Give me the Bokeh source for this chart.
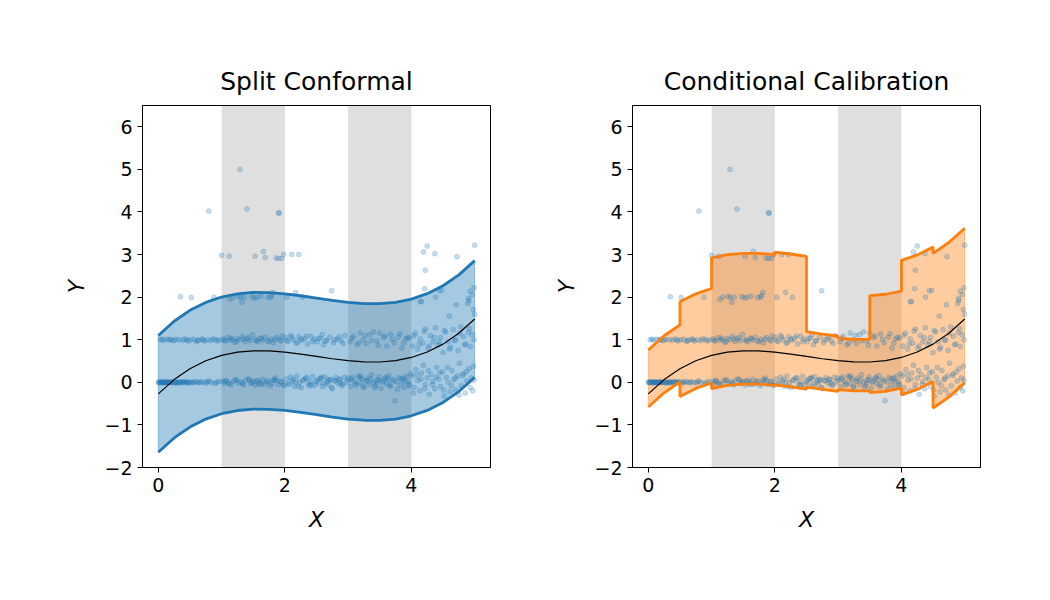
from bokeh.plotting import figure
from bokeh.layouts import row
from bokeh.models import Range1d, FixedTicker, BoxAnnotation
from bokeh.embed import file_html
from bokeh.resources import INLINE

BLUE = "#1f77b4"
ORANGE = "#ff7f0e"

TITLES = ["Split Conformal", "Conditional Calibration"]
X_TICKS = [0, 2, 4]
Y_TICKS = [-2, -1, 0, 1, 2, 3, 4, 5, 6]
SHADED = [(1.0, 2.0), (3.0, 4.0)]

# fitted mean curve
MEAN_X = [0.0, 0.25, 0.5, 0.75, 1.0, 1.25, 1.5, 1.75, 2.0, 2.25, 2.5,
          2.75, 3.0, 3.25, 3.5, 3.75, 4.0, 4.25, 4.5, 4.75, 5.0]
MEAN_Y = [-0.27, 0.064, 0.32, 0.507, 0.633, 0.708, 0.740, 0.737, 0.709, 0.663, 0.609,
          0.554, 0.508, 0.480, 0.477, 0.508, 0.584, 0.711, 0.897, 1.153, 1.487]

# split conformal half-width
SPLIT_Q = 1.37

# conditional calibration: per-segment offsets from the mean
COND_EDGES = [0.0, 0.5, 1.0, 1.5, 2.0, 2.5, 3.0, 3.5, 4.0, 4.5, 5.0]
COND_LOWER = [-0.31, -0.65, -0.78, -0.78, -0.77, -0.72, -0.68, -0.72, -0.88, -1.50]
COND_UPPER = [1.03, 1.57, 2.29, 2.29, 2.35, 0.58, 0.53, 1.56, 2.28, 2.13]

# observations near Y = 0
Y0_X = [0.00, 0.02, 0.03, 0.05, 0.06, 0.08, 0.10, 0.11, 0.13, 0.15, 0.17, 0.19, 0.21, 0.23, 0.26, 0.28, 0.30, 0.33,
        0.35, 0.37, 0.40, 0.42, 0.44, 0.47, 0.50, 0.53, 0.57, 0.60, 0.63, 0.68, 0.72, 0.76, 0.80, 0.84, 0.89, 0.95,
        1.01, 1.04, 1.07, 1.10, 1.15, 1.19, 1.22, 1.27, 1.31, 1.35, 1.38, 1.42, 1.46, 1.50, 1.53, 1.57, 1.61, 1.65,
        1.69, 1.73, 1.77, 1.81, 1.85, 1.89, 1.93, 1.97,
        2.02, 2.05, 2.09, 2.12, 2.15, 2.19, 2.23, 2.26, 2.30, 2.33, 2.37, 2.40, 2.44, 2.47, 2.51, 2.54, 2.57, 2.60,
        2.63, 2.66, 2.69, 2.72, 2.75, 2.78, 2.81, 2.84, 2.87, 2.90, 2.94, 2.97,
        3.01, 3.04, 3.07, 3.10, 3.13, 3.16, 3.19, 3.22, 3.25, 3.28, 3.31, 3.34, 3.37, 3.40, 3.43, 3.46, 3.49, 3.52,
        3.55, 3.58, 3.61, 3.64, 3.67, 3.70, 3.74, 3.77, 3.80, 3.83, 3.86, 3.89, 3.92, 3.95, 3.97, 3.99,
        4.01, 4.04, 4.07, 4.10, 4.13, 4.16, 4.19, 4.22, 4.25, 4.28, 4.31, 4.34, 4.37, 4.40, 4.43, 4.46, 4.49, 4.52,
        4.55, 4.58, 4.61, 4.64, 4.67, 4.70, 4.73, 4.76, 4.79, 4.82, 4.85, 4.88, 4.91, 4.93, 4.95, 4.97, 4.99, 4.98,
        0.01, 0.04, 0.07, 0.09, 0.12, 0.14, 0.16, 0.18, 0.20, 0.24, 0.27, 0.31, 0.34, 0.39, 0.45, 0.48, 0.55, 0.66,
        0.78, 0.92,
        1.12, 1.24, 1.33, 1.44, 1.55, 1.63, 1.71, 1.79, 1.87, 1.95, 1.99, 1.06, 1.48, 1.59, 1.83,
        2.07, 2.14, 2.21, 2.28, 2.35, 2.42, 2.49, 2.55, 2.62, 2.68, 2.74, 2.80, 2.86, 2.92, 2.99, 2.17, 2.39, 2.58,
        2.71, 2.88,
        3.05, 3.12, 3.18, 3.24, 3.30, 3.36, 3.42, 3.48, 3.54, 3.60, 3.66, 3.72, 3.78, 3.84, 3.90, 3.96, 3.20, 3.45,
        3.63, 3.88,
        4.03, 4.09, 4.15, 4.21, 4.27, 4.33, 4.39, 4.45, 4.51, 4.57, 4.63, 4.69, 4.75, 4.81, 4.87]
Y0_Y = [0.00, -0.01, 0.00, 0.01, 0.00, -0.01, 0.00, 0.01, -0.01, 0.00, 0.00, 0.01, -0.01, 0.00, 0.01, 0.00, -0.02, 0.00,
        0.01, -0.01, 0.00, 0.02, -0.01, 0.00, 0.01, -0.02, 0.00, 0.02, -0.01, 0.01, 0.00, -0.02, 0.03, 0.00, -0.03, 0.02,
        0.02, -0.03, 0.04, 0.00, -0.05, 0.03, 0.06, -0.02, 0.01, -0.06, 0.05, 0.08, -0.03, 0.02, -0.07, 0.04, 0.00, 0.07,
        -0.04, 0.03, -0.08, 0.05, 0.10, -0.05, 0.02, -0.06,
        0.08, -0.05, 0.12, 0.03, -0.09, 0.15, 0.00, -0.12, 0.06, 0.10, -0.04, 0.02, 0.14, -0.07, 0.05, -0.02, 0.09, -0.10,
        0.13, 0.01, -0.05, 0.07, -0.15, 0.04, 0.11, -0.03, 0.06, -0.08, 0.12, 0.00,
        0.05, -0.10, 0.12, 0.02, -0.06, 0.15, -0.02, 0.08, -0.12, 0.04, 0.10, -0.05, 0.18, 0.00, -0.08, 0.06, 0.13, -0.14,
        0.03, 0.09, -0.04, 0.16, -0.10, 0.07, -0.43, 0.01, 0.11, -0.07, 0.05, -0.12, 0.14, 0.02, -0.05, 0.20,
        0.15, -0.12, 0.30, 0.05, -0.20, 0.22, 0.40, -0.05, 0.10, -0.28, 0.18, 0.02, -0.15, 0.35, 0.08, -0.10, 0.25, -0.32,
        0.12, 0.00, -0.22, 0.28, 0.06, -0.18, 0.15, 0.45, -0.08, 0.20, -0.25, 0.03, 0.32, -0.12, 0.10, -0.20, 0.05, 0.38,
        0.00, 0.01, -0.01, 0.00, 0.01, 0.00, -0.01, 0.00, 0.01, 0.00, -0.01, 0.01, 0.00, 0.01, 0.00, -0.01, 0.01, 0.00,
        0.02, -0.01,
        -0.04, 0.05, -0.02, 0.06, 0.03, -0.05, 0.02, -0.03, 0.04, 0.01, -0.07, 0.03, 0.00, -0.04, 0.06,
        -0.02, 0.07, -0.10, 0.04, 0.11, -0.06, 0.02, 0.09, -0.03, 0.06, -0.12, 0.03, 0.08, -0.05, 0.10, 0.01, -0.08, 0.12,
        0.05, -0.01,
        0.08, -0.03, 0.11, -0.09, 0.02, 0.07, -0.13, 0.05, 0.00, 0.12, -0.06, 0.03, -0.16, 0.09, 0.01, -0.08, 0.15, -0.02,
        0.06, 0.10,
        -0.25, 0.18, 0.08, -0.15, 0.28, -0.05, 0.12, 0.22, -0.18, 0.35, -0.08, 0.10, -0.30, 0.16, 0.25]

# observations near Y = 1
Y1_X = [0.03, 0.08, 0.13, 0.17, 0.22, 0.28, 0.33, 0.38, 0.42, 0.47, 0.51, 0.56, 0.60, 0.64, 0.69, 0.73, 0.78, 0.83, 0.90, 0.96,
        1.02, 1.06, 1.10, 1.13, 1.17, 1.21, 1.25, 1.29, 1.33, 1.37, 1.41, 1.45, 1.49, 1.53, 1.57, 1.61, 1.65, 1.69,
        1.73, 1.78, 1.82, 1.87, 1.92, 1.96,
        2.01, 2.05, 2.09, 2.13, 2.18, 2.22, 2.27, 2.31, 2.36, 2.41, 2.46, 2.51, 2.56, 2.61, 2.66, 2.71, 2.77, 2.83, 2.89, 2.95,
        3.03, 3.08, 3.14, 3.19, 3.24, 3.29, 3.34, 3.40, 3.45, 3.50, 3.56, 3.61, 3.67, 3.73, 3.79, 3.85, 3.91, 3.97,
        4.02, 4.06, 4.10, 4.14, 4.18, 4.22, 4.26, 4.30, 4.34, 4.38, 4.42, 4.46, 4.50, 4.54, 4.58, 4.62, 4.66, 4.70,
        4.74, 4.78, 4.82, 4.86, 4.90, 4.93, 4.96, 4.99,
        0.06, 0.25, 0.45, 0.62, 0.86, 0.93, 0.71, 0.19,
        1.04, 1.15, 1.23, 1.35, 1.43, 1.55, 1.63, 1.75, 1.84, 1.94,
        2.03, 2.11, 2.20, 2.25, 2.34, 2.44, 2.53, 2.59, 2.64, 2.79, 2.86, 2.92,
        3.06, 3.17, 3.27, 3.37, 3.48, 3.58, 3.70, 3.82, 3.88, 3.94,
        4.04, 4.12, 4.20, 4.28, 4.36, 4.44, 4.52, 4.60, 4.68, 4.76, 4.84, 4.92]
Y1_Y = [1.00, 0.99, 1.01, 1.00, 0.98, 1.01, 1.00, 0.99, 1.02, 0.97, 1.00, 1.01, 0.96, 0.99, 1.02, 0.97, 1.00, 0.98, 1.01, 0.99,
        1.02, 0.97, 1.05, 0.99, 1.01, 0.94, 1.03, 1.00, 1.08, 0.96, 1.02, 0.98, 1.12, 1.00, 0.95, 1.04, 0.99, 1.06,
        0.97, 1.01, 0.93, 1.05, 1.00, 1.09,
        1.05, 0.96, 1.10, 1.00, 0.92, 1.07, 0.99, 1.03, 0.90, 1.08, 1.01, 0.95, 1.04, 0.88, 0.98, 1.06, 0.93, 1.02, 0.97, 1.10,
        0.95, 1.08, 0.88, 1.16, 1.00, 0.91, 1.12, 1.18, 0.97, 1.16, 1.05, 0.85, 1.13, 0.93, 1.06, 0.80, 1.02, 1.04,
        0.85, 1.15, 0.78, 1.02, 0.92, 1.25, 0.80, 1.10, 0.95, 1.28, 0.88, 1.05, 0.70, 1.18, 0.95, 0.82, 1.24, 1.00,
        0.75, 1.30, 1.08, 0.90, 1.17, 0.84, 1.12, 1.00,
        1.01, 0.99, 1.00, 0.98, 1.02, 0.97, 1.00, 1.01,
        0.99, 1.04, 0.96, 1.02, 1.06, 0.98, 1.03, 0.95, 1.01, 0.97,
        0.98, 1.06, 0.94, 1.02, 1.09, 0.96, 1.03, 1.12, 0.97, 1.00, 1.07, 0.91,
        1.03, 0.93, 1.10, 0.98, 0.87, 1.09, 1.01, 1.14, 0.92, 1.06,
        1.10, 0.90, 1.20, 0.85, 1.05, 0.95, 1.22, 0.78, 0.98, 1.15, 0.88, 1.26]

# observations at Y >= 2
YHI_X = [0.35, 0.52, 0.88, 1.13, 1.18, 1.26, 1.30, 1.32, 1.36, 1.48, 1.52, 1.56, 1.62, 1.73, 1.77, 1.79, 1.81, 2.03,
         2.17, 2.28, 2.74,
         4.14, 4.16, 4.21, 4.38, 4.44, 4.48, 4.71, 4.90, 4.91, 4.89, 4.93, 4.96, 4.99, 4.98, 5.00, 4.60,
         1.00, 1.12, 1.53, 1.66, 1.69, 1.86, 1.90, 1.95, 1.98, 2.11, 2.22,
         4.19, 4.25, 4.37, 4.72, 5.00, 4.22,
         0.80, 1.29, 1.40, 1.90, 1.91]
YHI_Y = [2.01, 1.99, 2.00, 1.95, 2.00, 2.02, 1.99, 1.88, 2.00, 2.01, 1.98, 2.00, 2.02, 1.99, 2.00, 2.03, 2.11, 2.00,
         2.11, 2.00, 2.15,
         1.90, 1.89, 2.20, 2.00, 2.15, 2.16, 1.82, 1.97, 1.92, 1.85, 2.14, 2.06, 2.22, 1.71, 1.60, 1.55,
         2.98, 2.96, 2.96, 3.07, 2.93, 2.92, 2.91, 2.91, 3.00, 3.00, 3.00,
         3.06, 3.20, 3.02, 2.95, 3.22, 2.63,
         4.02, 5.00, 4.07, 3.98, 3.97]


def make_fig(title, left, right):
    p = figure(width=525, height=600, output_backend="svg", toolbar_location=None,
               x_range=Range1d(-0.25, 5.25), y_range=Range1d(-2, 6.5),
               min_border_left=left, min_border_right=right,
               min_border_top=105, min_border_bottom=133, title=title)
    p.title.align = "center"
    p.title.text_font = "DejaVu Sans"
    p.title.text_font_size = "25px"
    p.title.text_font_style = "normal"
    p.title.text_color = "black"
    p.title.standoff = 19
    p.grid.visible = False
    p.outline_line_color = "black"
    p.outline_line_alpha = 1
    p.outline_line_width = 1
    p.xaxis.ticker = FixedTicker(ticks=X_TICKS)
    p.yaxis.ticker = FixedTicker(ticks=Y_TICKS)
    p.yaxis.major_label_overrides = {t: (("\u2212" + str(abs(t))) if t < 0 else str(t)) for t in Y_TICKS}
    for ax in (p.xaxis[0], p.yaxis[0]):
        ax.major_tick_in = 0
        ax.major_tick_out = 5
        ax.minor_tick_line_color = None
        ax.major_label_text_font = "DejaVu Sans"
        ax.major_label_text_font_size = "19px"
        ax.major_label_text_color = "black"
        ax.axis_label_text_font = "DejaVu Sans"
        ax.axis_label_text_font_size = "22px"
        ax.axis_label_text_font_style = "italic"
        ax.axis_label_text_color = "black"
        ax.axis_label_standoff = 12
        ax.axis_line_color = "black"
        ax.major_tick_line_color = "black"
    p.xaxis.axis_label = "X"
    p.yaxis.axis_label = "Y"
    for a, b in SHADED:
        p.add_layout(BoxAnnotation(left=a, right=b, fill_color="#808080", fill_alpha=0.25,
                                   line_color=None, level="underlay"))
    return p


def add_points(p):
    xs = Y0_X + Y1_X + YHI_X
    ys = Y0_Y + Y1_Y + YHI_Y
    p.scatter(xs, ys, size=5, fill_color=BLUE, fill_alpha=0.25, line_color=BLUE, line_alpha=0.3, line_width=0.6)


# left: split conformal
p1 = make_fig(TITLES[0], 142, 35)
lo1 = [m - SPLIT_Q for m in MEAN_Y]
hi1 = [m + SPLIT_Q for m in MEAN_Y]
p1.varea(x=MEAN_X, y1=lo1, y2=hi1, fill_color=BLUE, fill_alpha=0.4)
p1.line([MEAN_X[0], MEAN_X[0]], [lo1[0], hi1[0]], line_color=BLUE, line_alpha=0.4, line_width=1)
p1.line([MEAN_X[-1], MEAN_X[-1]], [lo1[-1], hi1[-1]], line_color=BLUE, line_alpha=0.4, line_width=1)
add_points(p1)
p1.line(MEAN_X, hi1, line_color=BLUE, line_width=2.8)
p1.line(MEAN_X, lo1, line_color=BLUE, line_width=2.8)
p1.line(MEAN_X, MEAN_Y, line_color="black", line_width=1.2)

# right: conditional calibration
cx, clo, chi = [], [], []
for i in range(len(COND_EDGES) - 1):
    a, b = COND_EDGES[i], COND_EDGES[i + 1]
    for xv, mv in zip(MEAN_X, MEAN_Y):
        if a - 1e-9 <= xv <= b + 1e-9:
            cx.append(xv)
            clo.append(mv + COND_LOWER[i])
            chi.append(mv + COND_UPPER[i])

p2 = make_fig(TITLES[1], 107, 70)
p2.varea(x=cx, y1=clo, y2=chi, fill_color=ORANGE, fill_alpha=0.4)
p2.line([cx[0], cx[0]], [clo[0], chi[0]], line_color=ORANGE, line_alpha=0.4, line_width=1)
p2.line([cx[-1], cx[-1]], [clo[-1], chi[-1]], line_color=ORANGE, line_alpha=0.4, line_width=1)
add_points(p2)
p2.line(cx, chi, line_color=ORANGE, line_width=2.8)
p2.line(cx, clo, line_color=ORANGE, line_width=2.8)
p2.line(MEAN_X, MEAN_Y, line_color="black", line_width=1.2)

layout = row(p1, p2)
open("out.html", "w").write(file_html(layout, INLINE))
